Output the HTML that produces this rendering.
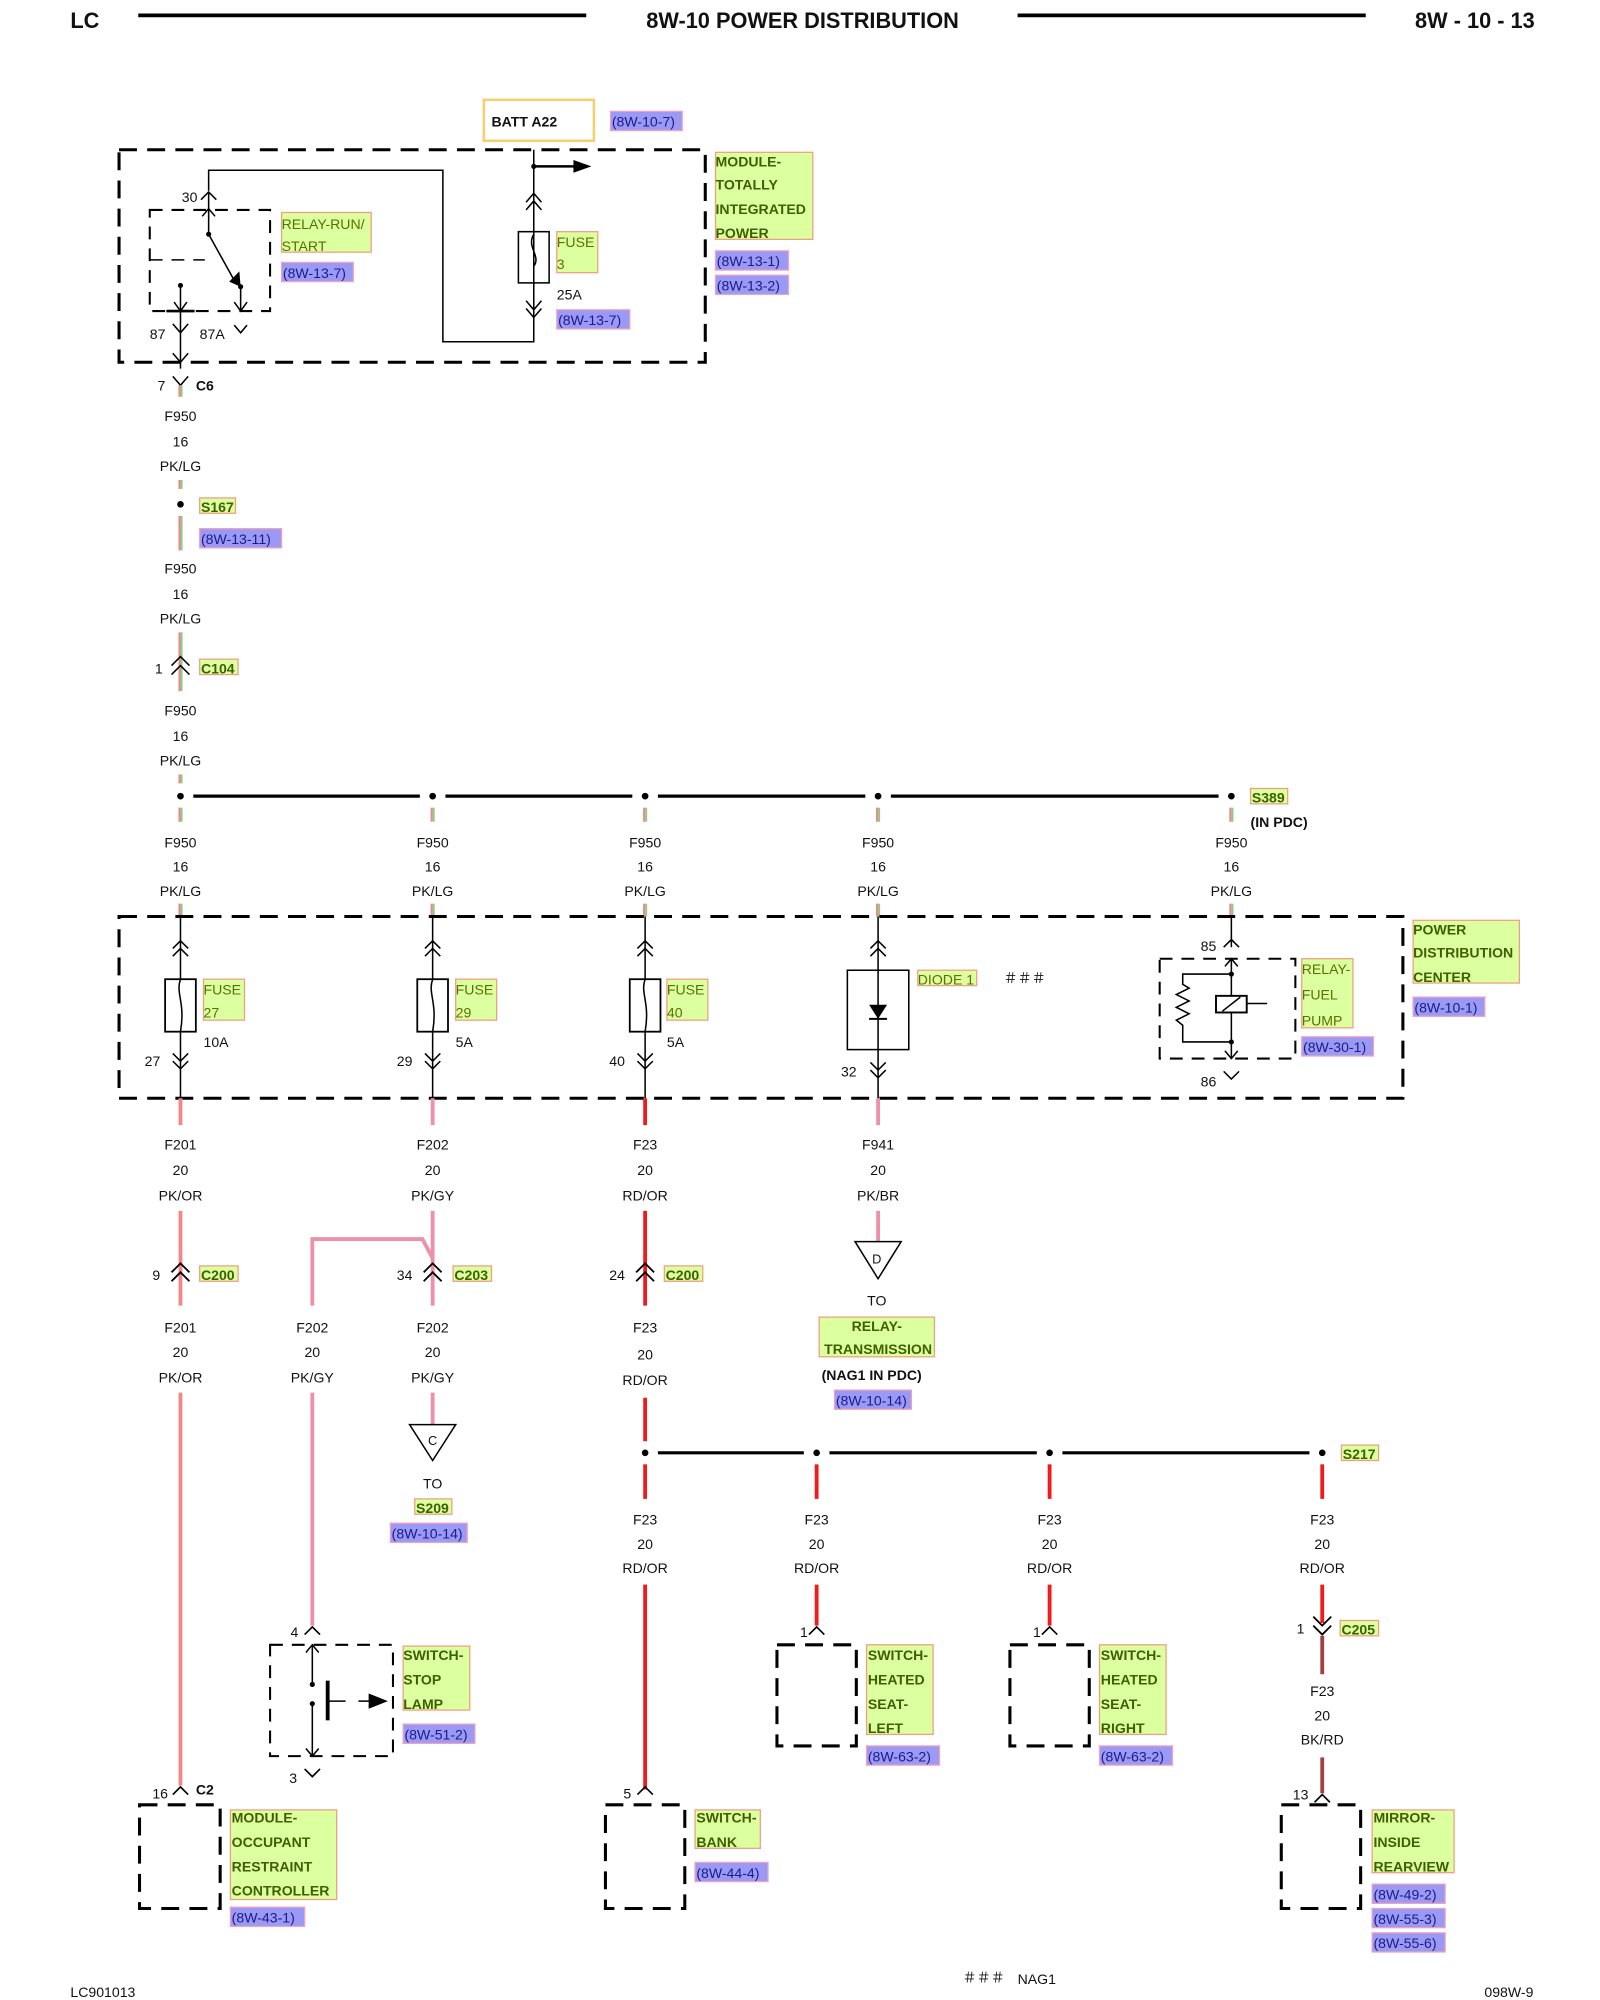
<!DOCTYPE html>
<html><head><meta charset="utf-8"><style>
html,body{margin:0;padding:0;background:#fff}
svg{display:block}
text{font-family:"Liberation Sans",Arial,sans-serif;font-size:11px;fill:#111}
.c{text-anchor:middle}
.b{font-weight:bold}
.g{fill:#dcffa0;stroke:#f0a080;stroke-width:1}
.gt{fill:#5a7000}
.gb{fill:#3f6000;font-weight:bold}
.p{fill:#9a9af5;stroke:#f0a0c0;stroke-width:1}
.pt{fill:#1a1a8a}
.d{fill:none;stroke:#000;stroke-width:2.4;stroke-dasharray:14 8}
.k{fill:none;stroke:#000;stroke-width:1.2}
.bus{stroke:#000;stroke-width:2.5}
.pk{stroke:#f08888;stroke-width:3}
.pg{stroke:#ee90a8;stroke-width:3}
.rd{stroke:#ee1c1c;stroke-width:3}
.br{stroke:#a04040;stroke-width:3}
.pkl{stroke:#f08888;stroke-width:1.6}
.lg{stroke:#88cc88;stroke-width:1.6}
</style></head><body>
<svg width="1600" height="2000" viewBox="0 0 1250 1562.5" xmlns="http://www.w3.org/2000/svg">
<g transform="translate(0,-2)">
<!-- header -->
<text x="55" y="24" class="b" style="font-size:17px">LC</text>
<line x1="108" y1="14" x2="458" y2="14" stroke="#000" stroke-width="3"/>
<text x="627" y="24" class="b c" style="font-size:17px">8W-10 POWER DISTRIBUTION</text>
<line x1="795" y1="14" x2="1067" y2="14" stroke="#000" stroke-width="3"/>
<text x="1199" y="24" class="b" style="font-size:17px;text-anchor:end">8W - 10 - 13</text>

<!-- BATT -->
<rect x="378" y="80" width="86" height="32" fill="#fff" stroke="#f5d070" stroke-width="2"/>
<text x="384" y="101" class="b">BATT A22</text>
<rect x="477" y="89" width="56" height="15" class="p"/><text x="478" y="101" class="pt">(8W-10-7)</text>

<!-- TIPM box -->
<rect x="93" y="119" width="458" height="166" class="d"/>
<polyline points="163,151 163,135 346,135 346,269 417,269 417,252" class="k"/>
<line x1="417" y1="119" x2="417" y2="252" stroke="#000" stroke-width="1.2"/>
<circle cx="417" cy="132" r="2" fill="#000"/>
<line x1="417" y1="132" x2="450" y2="132" stroke="#000" stroke-width="2"/>
<polygon points="448,127 462,132 448,137"/>
<path d="M411,160 L417,153 L423,160 M411,166 L417,159 L423,166" class="k"/>
<rect x="405" y="183" width="24" height="40" class="k"/>
<path d="M417,185 C411,195 423,202 417,210" class="k"/>
<path d="M411,237 L417,244 L423,237 M411,243 L417,250 L423,243" class="k"/>
<rect x="435" y="183" width="32" height="32" class="g"/><text x="435" y="195" class="gt">FUSE</text><text x="435" y="212" class="gt">3</text>
<text x="435" y="236">25A</text>
<rect x="435" y="244" width="57" height="15" class="p"/><text x="436" y="256" class="pt">(8W-13-7)</text>
<rect x="559" y="121" width="76" height="68" class="g"/>
<text x="559" y="132" class="gb">MODULE-</text><text x="559" y="150" class="gb">TOTALLY</text><text x="559" y="169" class="gb">INTEGRATED</text><text x="559" y="188" class="gb">POWER</text>
<rect x="559" y="198" width="57" height="15" class="p"/><text x="560" y="210" class="pt">(8W-13-1)</text>
<rect x="559" y="217" width="57" height="15" class="p"/><text x="560" y="229" class="pt">(8W-13-2)</text>
<!-- relay run/start -->
<rect x="117" y="166" width="94" height="79" class="d" style="stroke-width:1.6;stroke-dasharray:10 7"/>
<text x="142" y="160">30</text>
<path d="M157,158 L163,152 L169,158" class="k"/>
<line x1="163" y1="152" x2="163" y2="185" stroke="#000" stroke-width="1.2"/>
<path d="M158,171 L163,165 L168,171" class="k"/>
<circle cx="163" cy="185" r="2" fill="#000"/>
<line x1="163" y1="185" x2="183" y2="221" stroke="#000" stroke-width="1.2"/>
<polygon points="179,222 188,226 187,214"/>
<circle cx="188" cy="226" r="2" fill="#000"/>
<line x1="188" y1="226" x2="188" y2="245" stroke="#000" stroke-width="1.2"/>
<path d="M183,238 L188,245 L193,238" class="k"/>
<line x1="117" y1="205" x2="160" y2="205" stroke="#000" stroke-width="1.2" stroke-dasharray="10 7"/>
<circle cx="141" cy="225" r="2" fill="#000"/>
<line x1="141" y1="225" x2="141" y2="290" stroke="#000" stroke-width="1.2"/>
<path d="M136,238 L141,245 L146,238" class="k"/>
<line x1="130" y1="245" x2="152" y2="245" stroke="#000" stroke-width="2"/>
<path d="M135,278 L141,285 L147,278 M135,255 L141,262 L147,255" class="k"/>
<path d="M183,256 L188,262 L193,256" class="k"/>
<text x="117" y="267">87</text><text x="156" y="267">87A</text>
<rect x="220" y="168" width="70" height="31" class="g"/><text x="220" y="181" class="gt">RELAY-RUN/</text><text x="220" y="198" class="gt">START</text>
<rect x="220" y="207" width="56" height="15" class="p"/><text x="221" y="219" class="pt">(8W-13-7)</text>

<!-- main feed -->
<path d="M135,296 L141,303 L147,296" class="k"/>
<text x="123" y="307">7</text><text x="153" y="307" class="b">C6</text>
<g>
<line x1="140.2" y1="303" x2="140.2" y2="312" class="pkl"/><line x1="141.8" y1="303" x2="141.8" y2="312" class="lg"/>
<line x1="140.2" y1="377" x2="140.2" y2="384" class="pkl"/><line x1="141.8" y1="377" x2="141.8" y2="384" class="lg"/>
<line x1="140.2" y1="405" x2="140.2" y2="432" class="pkl"/><line x1="141.8" y1="405" x2="141.8" y2="432" class="lg"/>
<line x1="140.2" y1="496" x2="140.2" y2="542" class="pkl"/><line x1="141.8" y1="496" x2="141.8" y2="542" class="lg"/>
<line x1="140.2" y1="607" x2="140.2" y2="614" class="pkl"/><line x1="141.8" y1="607" x2="141.8" y2="614" class="lg"/>
</g>
<g class="c">
<text x="141" y="331">F950</text><text x="141" y="351">16</text><text x="141" y="370">PK/LG</text>
<text x="141" y="450">F950</text><text x="141" y="470">16</text><text x="141" y="489">PK/LG</text>
<text x="141" y="561">F950</text><text x="141" y="581">16</text><text x="141" y="600">PK/LG</text>
</g>
<circle cx="141" cy="396" r="2.6" fill="#000"/>
<rect x="156" y="391" width="28" height="12" class="g"/><text x="157" y="402" class="gb">S167</text>
<rect x="156" y="415" width="64" height="15" class="p"/><text x="157" y="427" class="pt">(8W-13-11)</text>
<path d="M134,522 L141,515 L148,522 M134,529 L141,522 L148,529" class="k"/>
<text x="121" y="528">1</text>
<rect x="156" y="517" width="30" height="12" class="g"/><text x="157" y="528" class="gb">C104</text>

<!-- bus 1 -->
<line x1="151" y1="624" x2="328" y2="624" class="bus"/>
<line x1="348" y1="624" x2="494" y2="624" class="bus"/>
<line x1="514" y1="624" x2="676" y2="624" class="bus"/>
<line x1="696" y1="624" x2="952" y2="624" class="bus"/>
<g fill="#000"><circle cx="141" cy="624" r="2.6"/><circle cx="338" cy="624" r="2.6"/><circle cx="504" cy="624" r="2.6"/><circle cx="686" cy="624" r="2.6"/><circle cx="962" cy="624" r="2.6"/></g>
<rect x="977" y="618" width="29" height="12" class="g"/><text x="978" y="629" class="gb">S389</text>
<text x="977" y="648" class="b">(IN PDC)</text>
<g>
<line x1="140.2" y1="633" x2="140.2" y2="644" class="pkl"/><line x1="141.8" y1="633" x2="141.8" y2="644" class="lg"/>
<line x1="337.2" y1="633" x2="337.2" y2="644" class="pkl"/><line x1="338.8" y1="633" x2="338.8" y2="644" class="lg"/>
<line x1="503.2" y1="633" x2="503.2" y2="644" class="pkl"/><line x1="504.8" y1="633" x2="504.8" y2="644" class="lg"/>
<line x1="685.2" y1="633" x2="685.2" y2="644" class="pkl"/><line x1="686.8" y1="633" x2="686.8" y2="644" class="lg"/>
<line x1="961.2" y1="633" x2="961.2" y2="644" class="pkl"/><line x1="962.8" y1="633" x2="962.8" y2="644" class="lg"/>
<line x1="140.2" y1="708" x2="140.2" y2="718" class="pkl"/><line x1="141.8" y1="708" x2="141.8" y2="718" class="lg"/>
<line x1="337.2" y1="708" x2="337.2" y2="718" class="pkl"/><line x1="338.8" y1="708" x2="338.8" y2="718" class="lg"/>
<line x1="503.2" y1="708" x2="503.2" y2="718" class="pkl"/><line x1="504.8" y1="708" x2="504.8" y2="718" class="lg"/>
<line x1="685.2" y1="708" x2="685.2" y2="718" class="pkl"/><line x1="686.8" y1="708" x2="686.8" y2="718" class="lg"/>
<line x1="961.2" y1="708" x2="961.2" y2="718" class="pkl"/><line x1="962.8" y1="708" x2="962.8" y2="718" class="lg"/>
</g>
<g class="c">
<text x="141" y="664">F950</text><text x="141" y="683">16</text><text x="141" y="702">PK/LG</text>
<text x="338" y="664">F950</text><text x="338" y="683">16</text><text x="338" y="702">PK/LG</text>
<text x="504" y="664">F950</text><text x="504" y="683">16</text><text x="504" y="702">PK/LG</text>
<text x="686" y="664">F950</text><text x="686" y="683">16</text><text x="686" y="702">PK/LG</text>
<text x="962" y="664">F950</text><text x="962" y="683">16</text><text x="962" y="702">PK/LG</text>
</g>

<!-- PDC -->
<rect x="93" y="718" width="1003" height="142" class="d"/>
<g class="k">
<line x1="141" y1="718" x2="141" y2="860"/><line x1="338" y1="718" x2="338" y2="860"/><line x1="504" y1="718" x2="504" y2="860"/><line x1="686" y1="718" x2="686" y2="860"/>
<path d="M135,743 L141,737 L147,743 M135,749 L141,743 L147,749"/>
<path d="M332,743 L338,737 L344,743 M332,749 L338,743 L344,749"/>
<path d="M498,743 L504,737 L510,743 M498,749 L504,743 L510,749"/>
<path d="M680,743 L686,737 L692,743 M680,749 L686,743 L692,749"/>
<path d="M135,825 L141,831 L147,825 M135,831 L141,837 L147,831"/>
<path d="M332,825 L338,831 L344,825 M332,831 L338,837 L344,831"/>
<path d="M498,825 L504,831 L510,825 M498,831 L504,837 L510,831"/>
<path d="M680,832 L686,838 L692,832 M680,838 L686,844 L692,838"/>
</g>
<g fill="#fff" stroke="#000" stroke-width="1.4">
<rect x="129" y="767" width="24" height="41"/><rect x="326" y="767" width="24" height="41"/><rect x="492" y="767" width="24" height="41"/>
<rect x="662" y="760" width="48" height="62" stroke-width="1.2"/>
</g>
<g class="k"><path d="M141,767 C137,778 145,785 141,808"/><path d="M338,767 C334,778 342,785 338,808"/><path d="M504,767 C500,778 508,785 504,808"/>
<line x1="686" y1="760" x2="686" y2="822"/></g>
<polygon points="679,787 693,787 686,798"/><line x1="679" y1="798" x2="693" y2="798" stroke="#000" stroke-width="1.5"/>
<rect x="159" y="767" width="32" height="32" class="g"/><text x="159" y="779" class="gt">FUSE</text><text x="159" y="797" class="gt">27</text>
<rect x="356" y="767" width="32" height="32" class="g"/><text x="356" y="779" class="gt">FUSE</text><text x="356" y="797" class="gt">29</text>
<rect x="521" y="767" width="32" height="32" class="g"/><text x="521" y="779" class="gt">FUSE</text><text x="521" y="797" class="gt">40</text>
<text x="159" y="820">10A</text><text x="356" y="820">5A</text><text x="521" y="820">5A</text>
<text x="113" y="835">27</text><text x="310" y="835">29</text><text x="476" y="835">40</text><text x="657" y="843">32</text>
<rect x="717" y="760" width="46" height="12" class="g"/><text x="717" y="771" class="gt">DIODE 1</text>
<text x="784" y="770">＃＃＃</text>
<!-- fuel pump relay -->
<line x1="962" y1="718" x2="962" y2="742" stroke="#000" stroke-width="1.2"/>
<path d="M956,742 L962,736 L968,742" class="k"/>
<text x="938" y="745">85</text><text x="938" y="851">86</text>
<path d="M956,839 L962,845 L968,839" class="k"/>
<rect x="906" y="751" width="106" height="78" class="d" style="stroke-width:1.6;stroke-dasharray:10 7"/>
<line x1="962" y1="751" x2="962" y2="829" stroke="#000" stroke-width="1.2"/>
<path d="M957,757 L962,751 L967,757 M957,823 L962,829 L967,823" class="k"/>
<circle cx="962" cy="763" r="2" fill="#000"/><circle cx="962" cy="816" r="2" fill="#000"/>
<path d="M962,763 L924,763 L924,771 L929,774 L919,779 L929,784 L919,789 L929,794 L919,799 L924,803 L924,816 L962,816" class="k"/>
<rect x="950" y="780" width="24" height="13" fill="#fff" stroke="#000" stroke-width="1.5"/>
<line x1="955" y1="792" x2="969" y2="781" stroke="#000" stroke-width="1.2"/>
<line x1="974" y1="786" x2="990" y2="786" stroke="#000" stroke-width="1.2"/>
<rect x="1017" y="751" width="40" height="54" class="g"/><text x="1017" y="763" class="gt">RELAY-</text><text x="1017" y="783" class="gt">FUEL</text><text x="1017" y="803" class="gt">PUMP</text>
<rect x="1017" y="812" width="56" height="15" class="p"/><text x="1018" y="824" class="pt">(8W-30-1)</text>
<rect x="1104" y="721" width="83" height="49" class="g"/><text x="1104" y="732" class="gb">POWER</text><text x="1104" y="750" class="gb">DISTRIBUTION</text><text x="1104" y="769" class="gb">CENTER</text>
<rect x="1104" y="781" width="56" height="15" class="p"/><text x="1105" y="793" class="pt">(8W-10-1)</text>

<!-- below PDC wires -->
<line x1="141" y1="860" x2="141" y2="881" class="pk"/>
<line x1="338" y1="860" x2="338" y2="881" class="pg"/>
<line x1="504" y1="860" x2="504" y2="881" class="rd"/>
<line x1="686" y1="860" x2="686" y2="881" class="pg"/>
<g class="c">
<text x="141" y="900">F201</text><text x="141" y="920">20</text><text x="141" y="940">PK/OR</text>
<text x="338" y="900">F202</text><text x="338" y="920">20</text><text x="338" y="940">PK/GY</text>
<text x="504" y="900">F23</text><text x="504" y="920">20</text><text x="504" y="940">RD/OR</text>
<text x="686" y="900">F941</text><text x="686" y="920">20</text><text x="686" y="940">PK/BR</text>
</g>
<line x1="141" y1="948" x2="141" y2="1022" class="pk"/>
<line x1="338" y1="948" x2="338" y2="1022" class="pg"/>
<line x1="504" y1="948" x2="504" y2="1022" class="rd"/>
<line x1="686" y1="948" x2="686" y2="972" class="pg"/>
<polyline points="338,985 330,970 244,970 244,1022" fill="none" class="pg"/>
<g class="k" style="stroke-width:1.4">
<path d="M134,996 L141,989 L148,996 M134,1003 L141,996 L148,1003"/>
<path d="M331,996 L338,989 L345,996 M331,1003 L338,996 L345,1003"/>
<path d="M497,996 L504,989 L511,996 M497,1003 L504,996 L511,1003"/>
</g>
<text x="119" y="1002">9</text><text x="310" y="1002">34</text><text x="476" y="1002">24</text>
<rect x="156" y="991" width="30" height="12" class="g"/><text x="157" y="1002" class="gb">C200</text>
<rect x="354" y="991" width="30" height="12" class="g"/><text x="355" y="1002" class="gb">C203</text>
<rect x="519" y="991" width="30" height="12" class="g"/><text x="520" y="1002" class="gb">C200</text>
<g class="c">
<text x="141" y="1043">F201</text><text x="141" y="1062">20</text><text x="141" y="1082">PK/OR</text>
<text x="244" y="1043">F202</text><text x="244" y="1062">20</text><text x="244" y="1082">PK/GY</text>
<text x="338" y="1043">F202</text><text x="338" y="1062">20</text><text x="338" y="1082">PK/GY</text>
<text x="504" y="1043">F23</text><text x="504" y="1064">20</text><text x="504" y="1084">RD/OR</text>
</g>
<!-- D triangle -->
<polygon points="668,972 704,972 686,1001" fill="#fff" stroke="#000" stroke-width="1.2"/>
<text x="685" y="989" class="c" style="font-size:10px">D</text>
<text x="685" y="1022" class="c">TO</text>
<rect x="640" y="1031" width="90" height="31" class="g"/><text x="685" y="1042" class="gb c">RELAY-</text><text x="686" y="1060" class="gb c">TRANSMISSION</text>
<text x="681" y="1080" class="b c">(NAG1 IN PDC)</text>
<rect x="652" y="1088" width="60" height="15" class="p"/><text x="653" y="1100" class="pt">(8W-10-14)</text>
<!-- C triangle -->
<line x1="338" y1="1090" x2="338" y2="1115" class="pg"/>
<polygon points="320,1115 356,1115 338,1143" fill="#fff" stroke="#000" stroke-width="1.2"/>
<text x="338" y="1131" class="c" style="font-size:10px">C</text>
<text x="338" y="1165" class="c">TO</text>
<rect x="324" y="1173" width="29" height="12" class="g"/><text x="325" y="1184" class="gb">S209</text>
<rect x="305" y="1192" width="60" height="15" class="p"/><text x="306" y="1204" class="pt">(8W-10-14)</text>

<!-- long wires -->
<line x1="141" y1="1090" x2="141" y2="1397" class="pk"/>
<line x1="244" y1="1090" x2="244" y2="1272" class="pg"/>
<line x1="504" y1="1094" x2="504" y2="1128" class="rd"/>
<line x1="504" y1="1146" x2="504" y2="1173" class="rd"/>
<line x1="638" y1="1146" x2="638" y2="1173" class="rd"/>
<line x1="820" y1="1146" x2="820" y2="1173" class="rd"/>
<line x1="1033" y1="1146" x2="1033" y2="1173" class="rd"/>
<line x1="514" y1="1137" x2="628" y2="1137" class="bus"/>
<line x1="648" y1="1137" x2="810" y2="1137" class="bus"/>
<line x1="830" y1="1137" x2="1023" y2="1137" class="bus"/>
<g fill="#000"><circle cx="504" cy="1137" r="2.6"/><circle cx="638" cy="1137" r="2.6"/><circle cx="820" cy="1137" r="2.6"/><circle cx="1033" cy="1137" r="2.6"/></g>
<rect x="1048" y="1131" width="29" height="12" class="g"/><text x="1049" y="1142" class="gb">S217</text>
<g class="c">
<text x="504" y="1193">F23</text><text x="504" y="1212">20</text><text x="504" y="1231">RD/OR</text>
<text x="638" y="1193">F23</text><text x="638" y="1212">20</text><text x="638" y="1231">RD/OR</text>
<text x="820" y="1193">F23</text><text x="820" y="1212">20</text><text x="820" y="1231">RD/OR</text>
<text x="1033" y="1193">F23</text><text x="1033" y="1212">20</text><text x="1033" y="1231">RD/OR</text>
<text x="1033" y="1327">F23</text><text x="1033" y="1346">20</text><text x="1033" y="1365">BK/RD</text>
</g>
<line x1="504" y1="1240" x2="504" y2="1400" class="rd"/>
<line x1="638" y1="1240" x2="638" y2="1272" class="rd"/>
<line x1="820" y1="1240" x2="820" y2="1272" class="rd"/>
<line x1="1033" y1="1240" x2="1033" y2="1270" class="rd"/>
<line x1="1033" y1="1280" x2="1033" y2="1310" class="br"/>
<line x1="1033" y1="1375" x2="1033" y2="1403" class="br"/>
<path d="M1026,1265 L1033,1272 L1040,1265 M1026,1272 L1033,1279 L1040,1272" class="k" style="stroke-width:1.4"/>
<text x="1013" y="1278">1</text>
<rect x="1047" y="1268" width="30" height="12" class="g"/><text x="1048" y="1279" class="gb">C205</text>

<!-- pin chevrons -->
<g class="k" style="stroke-width:1.3">
<path d="M238,1279 L244,1273 L250,1279"/>
<path d="M238,1384 L244,1390 L250,1384"/>
<path d="M632,1279 L638,1273 L644,1279"/>
<path d="M814,1279 L820,1273 L826,1279"/>
<path d="M135,1404 L141,1398 L147,1404"/>
<path d="M498,1404 L504,1398 L510,1404"/>
<path d="M1027,1410 L1033,1404 L1039,1410"/>
</g>
<text x="227" y="1281">4</text><text x="226" y="1395">3</text>
<text x="625" y="1281">1</text><text x="807" y="1281">1</text>
<text x="119" y="1407">16</text><text x="153" y="1404" class="b">C2</text>
<text x="487" y="1407">5</text><text x="1010" y="1408">13</text>

<!-- stop lamp switch -->
<rect x="211" y="1287" width="96" height="87" class="d" style="stroke-width:1.6;stroke-dasharray:10 7"/>
<line x1="244" y1="1287" x2="244" y2="1374" stroke="#000" stroke-width="1.2"/>
<line x1="244" y1="1318" x2="244" y2="1333" stroke="#fff" stroke-width="3"/>
<circle cx="244" cy="1318" r="2" fill="#000"/><circle cx="244" cy="1333" r="2" fill="#000"/>
<path d="M239,1293 L244,1287 L249,1293 M239,1368 L244,1374 L249,1368" class="k"/>
<line x1="256" y1="1315" x2="256" y2="1346" stroke="#000" stroke-width="3"/>
<line x1="256" y1="1331" x2="270" y2="1331" stroke="#000" stroke-width="1.2"/>
<line x1="280" y1="1331" x2="290" y2="1331" stroke="#000" stroke-width="1.2"/>
<polygon points="288,1325 303,1331 288,1337"/>
<rect x="315" y="1288" width="52" height="50" class="g"/><text x="315" y="1299" class="gb">SWITCH-</text><text x="315" y="1318" class="gb">STOP</text><text x="315" y="1337" class="gb">LAMP</text>
<rect x="315" y="1349" width="56" height="15" class="p"/><text x="316" y="1361" class="pt">(8W-51-2)</text>

<!-- heated seats -->
<rect x="607" y="1287" width="62" height="79" class="d"/>
<rect x="789" y="1287" width="62" height="79" class="d"/>
<rect x="677" y="1287" width="52" height="70" class="g"/><text x="678" y="1299" class="gb">SWITCH-</text><text x="678" y="1318" class="gb">HEATED</text><text x="678" y="1337" class="gb">SEAT-</text><text x="678" y="1356" class="gb">LEFT</text>
<rect x="677" y="1366" width="57" height="15" class="p"/><text x="678" y="1378" class="pt">(8W-63-2)</text>
<rect x="859" y="1287" width="52" height="70" class="g"/><text x="860" y="1299" class="gb">SWITCH-</text><text x="860" y="1318" class="gb">HEATED</text><text x="860" y="1337" class="gb">SEAT-</text><text x="860" y="1356" class="gb">RIGHT</text>
<rect x="859" y="1366" width="57" height="15" class="p"/><text x="860" y="1378" class="pt">(8W-63-2)</text>

<!-- bottom modules -->
<rect x="109" y="1412" width="63" height="81" class="d"/>
<rect x="473" y="1412" width="62" height="81" class="d"/>
<rect x="1001" y="1412" width="62" height="81" class="d"/>
<rect x="180" y="1416" width="83" height="70" class="g"/><text x="181" y="1426" class="gb">MODULE-</text><text x="181" y="1445" class="gb">OCCUPANT</text><text x="181" y="1464" class="gb">RESTRAINT</text><text x="181" y="1483" class="gb">CONTROLLER</text>
<rect x="180" y="1492" width="58" height="15" class="p"/><text x="181" y="1504" class="pt">(8W-43-1)</text>
<rect x="543" y="1416" width="51" height="30" class="g"/><text x="544" y="1426" class="gb">SWITCH-</text><text x="544" y="1445" class="gb">BANK</text>
<rect x="543" y="1457" width="57" height="15" class="p"/><text x="544" y="1469" class="pt">(8W-44-4)</text>
<rect x="1072" y="1416" width="64" height="49" class="g"/><text x="1073" y="1426" class="gb">MIRROR-</text><text x="1073" y="1445" class="gb">INSIDE</text><text x="1073" y="1464" class="gb">REARVIEW</text>
<rect x="1072" y="1474" width="57" height="15" class="p"/><text x="1073" y="1486" class="pt">(8W-49-2)</text>
<rect x="1072" y="1493" width="57" height="15" class="p"/><text x="1073" y="1505" class="pt">(8W-55-3)</text>
<rect x="1072" y="1512" width="57" height="15" class="p"/><text x="1073" y="1524" class="pt">(8W-55-6)</text>

<!-- footer -->
<text x="55" y="1562">LC901013</text>
<text x="752" y="1551">＃＃＃</text><text x="795" y="1552">NAG1</text>
<text x="1198" y="1562" style="text-anchor:end">098W-9</text>
</g>
</svg>
</body></html>
